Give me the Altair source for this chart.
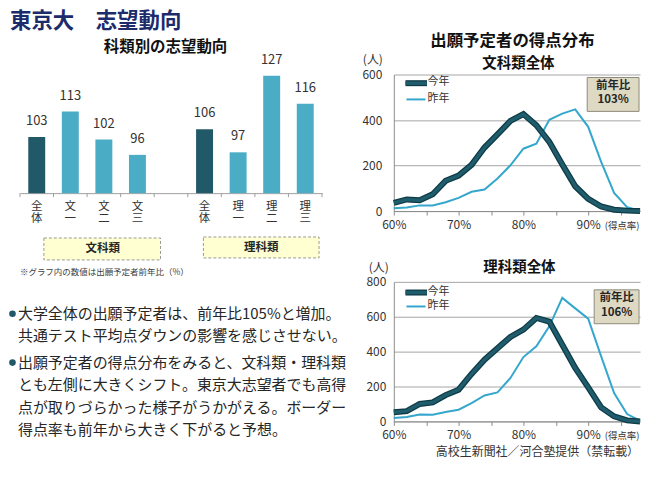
import altair as alt
import pandas as pd

FONT = "Noto Sans CJK JP"

# ---------------- data ----------------
bar_keys = ["文科全体", "文一", "文二", "文三", "理科全体", "理一", "理二", "理三"]
bar_names = ["全\n体", "文\n一", "文\n二", "文\n三", "全\n体", "理\n一", "理\n二", "理\n三"]
bar_values = [103, 113, 102, 96, 106, 97, 127, 116]
bar_kind = ["全体", "科類", "科類", "科類", "全体", "科類", "科類", "科類"]
x_slots = ["文科全体", "文一", "文二", "文三", " ", "理科全体", "理一", "理二", "理三"]

score_pct = [60, 62, 64, 66, 68, 70, 72, 74, 76, 78, 80, 82, 84, 86, 88, 90, 92, 94, 96, 98]
bun_now = [36, 51, 48, 74, 133, 156, 203, 279, 337, 396, 426, 377, 304, 205, 109, 54, 20, 6, 2, 0]
bun_prev = [12, 16, 25, 25, 39, 58, 85, 95, 143, 201, 274, 296, 401, 428, 447, 370, 216, 80, 17, 2]
ri_now = [52, 59, 100, 109, 151, 182, 272, 354, 419, 484, 526, 593, 572, 440, 306, 195, 80, 29, 6, 0]
ri_prev = [19, 25, 40, 38, 54, 67, 105, 149, 166, 249, 369, 431, 545, 708, 648, 589, 373, 163, 42, 4]

main_title = "東京大　志望動向"
bar_title = "科類別の志望動向"
group_names = ["文科類", "理科類"]
note = "※グラフ内の数値は出願予定者前年比（%）"
para1 = ["大学全体の出願予定者は、前年比105%と増加。",
         "共通テスト平均点ダウンの影響を感じさせない。"]
para2 = ["出願予定者の得点分布をみると、文科類・理科類",
         "とも左側に大きくシフト。東京大志望者でも高得",
         "点が取りづらかった様子がうかがえる。ボーダー",
         "得点率も前年から大きく下がると予想。"]
dist_title = "出願予定者の得点分布"
panel_titles = ["文科類全体", "理科類全体"]
ratio_texts = ["103%", "106%"]
legend_names = ["今年", "昨年"]
credit = "高校生新聞社／河合塾提供（禁転載）"

DARK = "#215968"
LIGHT = "#4BACC6"
LINE_LIGHT = "#35A7CD"
TXT = "#262626"

one = pd.DataFrame({"k": [0]})


def txt(s, x, y, size=12, bold=False, color=TXT, align="center", baseline="middle"):
    return alt.Chart(one).mark_text(
        text=s, font=FONT, fontSize=size, fontWeight="bold" if bold else "normal",
        color=color, align=align, baseline=baseline
    ).encode(x=alt.value(x), y=alt.value(y))


def anchor(x0, y0, w, h):
    return alt.Chart(one).mark_rect(opacity=0).encode(
        x=alt.value(x0), x2=alt.value(x0 + w), y=alt.value(y0), y2=alt.value(y0 + h))


def box(x0, x1, y0, y1, fill, stroke, dash=None):
    kw = dict(fill=fill, stroke=stroke, strokeWidth=1)
    if dash:
        kw["strokeDash"] = dash
    return alt.Chart(one).mark_rect(**kw).encode(
        x=alt.value(x0), x2=alt.value(x1), y=alt.value(y0), y2=alt.value(y1))


def seg(x0, x1, y, color, width):
    return alt.Chart(one).mark_rule(color=color, strokeWidth=width).encode(
        x=alt.value(x0), x2=alt.value(x1), y=alt.value(y))


# ---------------- left panel: bar chart + text ----------------
bar_df = pd.DataFrame({"key": bar_keys, "name": bar_names, "value": bar_values, "kind": bar_kind})
slot_df = pd.DataFrame({"key": x_slots})

BAR_H = 119
x_scale = alt.Scale(domain=x_slots, paddingInner=0, paddingOuter=0)
xb = alt.X("key:N", scale=x_scale,
           axis=alt.Axis(title=None, labels=False, ticks=False, domainColor="#A0A0A0"))
yb = alt.Y("value:Q", scale=alt.Scale(domain=[81, 127.5], zero=False, nice=False), axis=None)

bars = alt.Chart(bar_df).mark_bar(size=17).encode(
    x=xb, y=yb, y2=alt.datum(81),
    color=alt.Color("kind:N", scale=alt.Scale(domain=["全体", "科類"], range=[DARK, LIGHT]), legend=None))
bar_text = alt.Chart(bar_df).mark_text(dy=-16, fontSize=13, color="#333333", font=FONT).encode(
    x=xb, y=yb, text="value:Q")
cat_text = alt.Chart(bar_df).mark_text(fontSize=11.5, color="#333333", font=FONT, lineBreak="\n",
                                        lineHeight=12, baseline="top").encode(
    x=xb, y=alt.value(BAR_H + 8), text="name:N")
slot_ticks = alt.Chart(slot_df).mark_rule(color="#A0A0A0").encode(
    x=alt.X("key:N", scale=x_scale, bandPosition=0), y=alt.value(BAR_H), y2=alt.value(BAR_H + 4))
end_tick = alt.Chart(slot_df.tail(1)).mark_rule(color="#A0A0A0").encode(
    x=alt.X("key:N", scale=x_scale, bandPosition=1), y=alt.value(BAR_H), y2=alt.value(BAR_H + 4))

left_layers = [
    anchor(-12, -66, 352, 454),
    bars, bar_text, cat_text, slot_ticks, end_tick,
    txt(main_title, -10, -53, size=21.5, bold=True, color="#1B2B6B", align="left"),
    txt(bar_title, 146, -28, size=15.5, bold=True, color="#111111"),
    box(24, 141, 164, 186, "#FFFFD2", "#9A9A9A", [3, 2]),
    box(184, 300, 163, 184, "#FFFFD2", "#9A9A9A", [3, 2]),
    txt(group_names[0], 83, 175, size=11.5, bold=True),
    txt(group_names[1], 242, 174, size=11.5, bold=True),
    txt(note, 0, 198, size=8.5, color="#404040", align="left"),
]
for by in [240, 289]:
    left_layers.append(alt.Chart(one).mark_point(shape="circle", filled=True, size=44, color=DARK, opacity=1)
                       .encode(x=alt.value(-7.5), y=alt.value(by)))
for i, line in enumerate(para1):
    left_layers.append(txt(line, -2, 240 + 22 * i, size=15, align="left"))
for i, line in enumerate(para2):
    left_layers.append(txt(line, -2, 289 + 22.7 * i, size=15, align="left"))

left = alt.layer(*left_layers).properties(width=303, height=BAR_H)


# ---------------- right panels: distributions ----------------
def dist_panel(now, prev, ymax, yvals, lab_pad, anc, title_xy, unit_xy, rate_xy, leg, boxr, ratio):
    df_now = pd.DataFrame({"pct": score_pct, "n": now})
    df_prev = pd.DataFrame({"pct": score_pct, "n": prev})
    x = alt.X("pct:Q", scale=alt.Scale(domain=[60, 98], nice=False, zero=False),
              axis=alt.Axis(values=[60, 65, 70, 75, 80, 85, 90, 95],
                            labelExpr="datum.value % 10 == 0 ? datum.value + '%' : ''",
                            title=None, grid=False, tickSize=4, tickColor="#8C8C8C",
                            domainColor="#8C8C8C", labelFontSize=12, labelColor="#333333",
                            labelPadding=4, labelFont=FONT, labelFlush=False, labelOverlap=False))
    y = alt.Y("n:Q", scale=alt.Scale(domain=[0, ymax], nice=False),
              axis=alt.Axis(values=yvals, title=None, grid=True, gridColor="#A6A6A6",
                            ticks=False, domainColor="#8C8C8C", labelFontSize=12,
                            labelColor="#333333", labelPadding=lab_pad, labelFont=FONT))
    prev_line = alt.Chart(df_prev).mark_line(color=LINE_LIGHT, strokeWidth=2).encode(x=x, y=y)
    now_outer = alt.Chart(df_now).mark_line(color="#0E3A46", strokeWidth=6).encode(x=x, y=y)
    now_inner = alt.Chart(df_now).mark_line(color="#1F5D6D", strokeWidth=3.5).encode(x=x, y=y)
    cx = (boxr[0] + boxr[1]) / 2
    layers = [
        anchor(*anc),
        prev_line, now_outer, now_inner,
        txt(title_xy[2], title_xy[0], title_xy[1], size=14.5, bold=True, color="#111111"),
        txt("(人)", unit_xy[0], unit_xy[1], size=12, color="#333333"),
        txt("(得点率)", rate_xy[0], rate_xy[1], size=9.5, color="#333333"),
        seg(leg[0], leg[1], leg[2], "#0E3A46", 6),
        seg(leg[0], leg[1], leg[2], "#1F5D6D", 3.5),
        txt(legend_names[0], leg[1] + 0.5, leg[2] - 0.7, size=11, align="left", color="#333333"),
        seg(leg[0] + 1, leg[1] - 1.5, leg[3], LINE_LIGHT, 2),
        txt(legend_names[1], leg[1] + 0.5, leg[3] - 0.7, size=11, align="left", color="#333333"),
        box(boxr[0], boxr[1], boxr[2], boxr[3], "#DDD9C3", "#8E8B7D"),
        txt("前年比", cx, boxr[2] + 8.5, size=11.5, bold=True),
        txt(ratio, cx, boxr[2] + 23, size=11.5, bold=True),
    ]
    return layers


top_layers = dist_panel(bun_now, bun_prev, 600, [0, 200, 400, 600], 12,
                        (-35, -66, 282, 242), (125, -11, panel_titles[0]), (-21, -15),
                        (229, 152), (11.7, 33.3, 8.7, 25), (194, 246, 3, 37), ratio_texts[0])
top_layers.append(txt(dist_title, 119, -33.5, size=16.5, bold=True, color="#111111"))
top = alt.layer(*top_layers).properties(width=247, height=137)

bot_layers = dist_panel(ri_now, ri_prev, 800, [0, 200, 400, 600, 800], 8,
                        (-35, -32, 282, 212), (126, -14, panel_titles[1]), (-15, -14),
                        (229, 155), (11.7, 33.3, 10.7, 24.7), (201, 246, 8, 42), ratio_texts[1])
bot_layers.append(txt(credit, 246, 171, size=12, color="#333333", align="right"))
bottom = alt.layer(*bot_layers).properties(width=247, height=140)

right = alt.vconcat(top, bottom, spacing=0)

chart = alt.hconcat(left, right, spacing=0).properties(padding=0).configure(
    font=FONT).configure_view(stroke=None)

chart.save("out.html", embed_options={"renderer": "svg", "actions": False})
